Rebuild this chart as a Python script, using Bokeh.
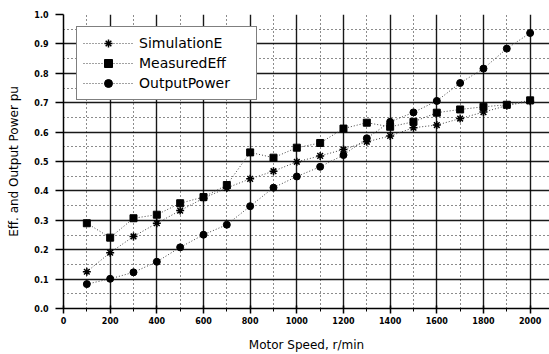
from bokeh.plotting import figure
from bokeh.models import Range1d, FixedTicker, Legend, LegendItem, NumeralTickFormatter
from bokeh.embed import file_html
from bokeh.resources import INLINE

# ---- data ----
speed = [100, 200, 300, 400, 500, 600, 700, 800, 900, 1000,
         1100, 1200, 1300, 1400, 1500, 1600, 1700, 1800, 1900, 2000]
simulation_eff = [0.125, 0.190, 0.245, 0.290, 0.333, 0.375, 0.410, 0.441, 0.467, 0.499,
                  0.519, 0.541, 0.567, 0.587, 0.615, 0.624, 0.646, 0.668, 0.690, 0.705]
measured_eff = [0.290, 0.241, 0.307, 0.319, 0.358, 0.379, 0.420, 0.531, 0.513, 0.547,
                0.563, 0.612, 0.632, 0.618, 0.635, 0.666, 0.677, 0.686, 0.693, 0.708]
output_power = [0.083, 0.101, 0.123, 0.159, 0.208, 0.251, 0.285, 0.348, 0.411, 0.449,
                0.482, 0.522, 0.579, 0.635, 0.667, 0.706, 0.767, 0.816, 0.884, 0.937]

x_major = [0, 200, 400, 600, 800, 1000, 1200, 1400, 1600, 1800, 2000]
x_minor = [100, 300, 500, 700, 900, 1100, 1300, 1500, 1700, 1900]
y_major = [0.0, 0.1, 0.2, 0.3, 0.4, 0.5, 0.6, 0.7, 0.8, 0.9, 1.0]
y_minor = [0.05, 0.15, 0.25, 0.35, 0.45, 0.55, 0.65, 0.75, 0.85, 0.95]

series_names = ["SimulationE", "MeasuredEff", "OutputPower"]
x_title = "Motor Speed, r/min"
y_title = "Eff. and Output Power pu"

FONT = "DejaVu Sans"

p = figure(width=549, height=354,
           x_range=Range1d(0, 2083), y_range=Range1d(0, 1.0),
           output_backend="svg", toolbar_location=None,
           min_border_left=63, min_border_right=0,
           min_border_top=14, min_border_bottom=45)

p.background_fill_color = "white"
p.outline_line_color = None

# axes
p.xaxis.ticker = FixedTicker(ticks=x_major, minor_ticks=x_minor)
p.yaxis.ticker = FixedTicker(ticks=y_major, minor_ticks=y_minor)
p.yaxis.formatter = NumeralTickFormatter(format="0.0")

for ax in (p.xaxis[0], p.yaxis[0]):
    ax.axis_line_color = "black"
    ax.axis_line_width = 1.5
    ax.major_tick_line_color = "black"
    ax.major_tick_line_width = 1.5
    ax.minor_tick_line_color = "black"
    ax.major_label_text_font = FONT
    ax.major_label_text_font_style = "bold"
    ax.major_label_text_font_size = "8px"
    ax.major_label_text_color = "black"
    ax.axis_label_text_font = FONT
    ax.axis_label_text_font_style = "normal"
    ax.axis_label_text_font_size = "12px"
    ax.axis_label_text_color = "black"

p.xaxis.major_tick_in = 3
p.xaxis.major_tick_out = 5
p.xaxis.minor_tick_in = 0
p.xaxis.minor_tick_out = 3
p.xaxis.major_label_standoff = 3
p.xaxis.axis_label = x_title
p.xaxis.axis_label_standoff = 11

p.yaxis.major_tick_in = 0
p.yaxis.major_tick_out = 8
p.yaxis.minor_tick_in = 0
p.yaxis.minor_tick_out = 0
p.yaxis.major_label_standoff = 7
p.yaxis.axis_label = y_title
p.yaxis.axis_label_standoff = 10

# grids
for g in (p.xgrid[0], p.ygrid[0]):
    g.grid_line_color = "black"
    g.grid_line_width = 1.4
    g.grid_line_alpha = 0.9
    g.minor_grid_line_color = "black"
    g.minor_grid_line_width = 1
    g.minor_grid_line_dash = "1 3"
    g.minor_grid_line_alpha = 0.9

line_kw = dict(line_color="#444444", line_width=1, line_dash="1 2")

l1 = p.line(speed, simulation_eff, **line_kw)
s1 = p.scatter(speed, simulation_eff, marker="asterisk", size=8,
               line_color="black", line_width=1.5)
l2 = p.line(speed, measured_eff, **line_kw)
s2 = p.scatter(speed, measured_eff, marker="square", size=7,
               fill_color="black", line_color="black")
l3 = p.line(speed, output_power, **line_kw)
s3 = p.scatter(speed, output_power, marker="circle", size=7,
               fill_color="black", line_color="black")

legend = Legend(items=[
    LegendItem(label=series_names[0], renderers=[l1, s1]),
    LegendItem(label=series_names[1], renderers=[l2, s2]),
    LegendItem(label=series_names[2], renderers=[l3, s3]),
], location=(13, 208))
legend.border_line_color = "black"
legend.border_line_width = 1.5
legend.background_fill_color = "white"
legend.background_fill_alpha = 1
legend.label_text_font = FONT
legend.label_text_font_size = "14px"
legend.label_text_color = "black"
legend.glyph_width = 50
legend.glyph_height = 20
legend.label_height = 20
legend.label_width = 111
legend.label_standoff = 6
legend.spacing = 0
legend.padding = 6
legend.margin = 0
p.add_layout(legend)

open("out.html", "w").write(file_html(p, INLINE))
